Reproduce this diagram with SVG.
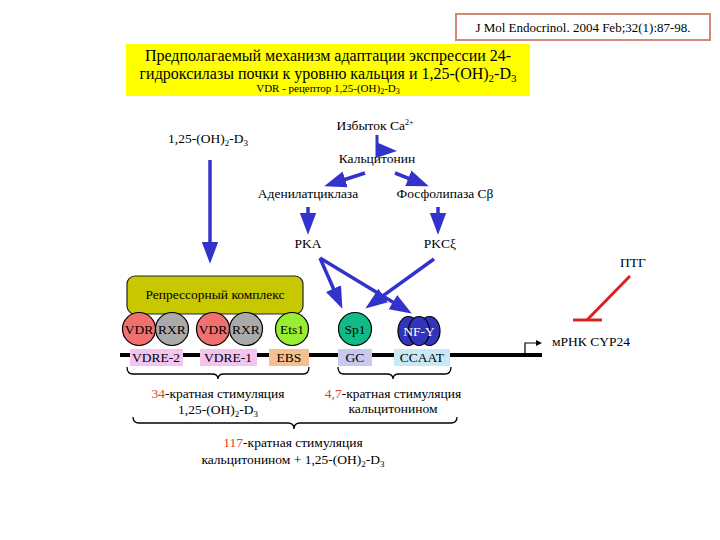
<svg xmlns="http://www.w3.org/2000/svg" width="720" height="540" viewBox="0 0 720 540" font-family="'Liberation Serif','Times New Roman',serif">
<style>
text{font-family:"Liberation Serif","Times New Roman",serif;fill:#000}
.t13{font-size:13.5px}
.mid{text-anchor:middle}
.arr{stroke:#3333cc;stroke-width:3.5;fill:none;marker-end:url(#ah)}
.brace{stroke:#000;stroke-width:1.3;fill:none}
.red{fill:#d8452a}
.circ{stroke:#000;stroke-width:1.2}
</style>
<defs>
<marker id="ah" markerUnits="userSpaceOnUse" markerWidth="22" markerHeight="18" viewBox="0 0 20 15" refX="12" refY="7.5" orient="auto">
<path d="M0,0 L20,7.5 L0,15 z" fill="#3333cc"/>
</marker>
</defs>
<rect width="720" height="540" fill="#fff"/>

<g id="citation">
<rect x="456" y="14" width="254" height="26" fill="#fff" stroke="#d08a78" stroke-width="2"/>
<text x="583" y="32" class="mid" font-size="13">J Mol Endocrinol. 2004 Feb;32(1):87-98.</text>
</g>

<g id="title">
<rect x="126" y="44" width="404" height="52" fill="#ffff00"/>
<text x="328" y="61" class="mid" font-size="16">Предполагаемый механизм адаптации экспрессии 24-</text>
<text x="328" y="79" class="mid" font-size="16">гидроксилазы почки к уровню кальция и 1,25-(OH)<tspan font-size="11" dy="3">2</tspan><tspan dy="-3">-D</tspan><tspan font-size="11" dy="3">3</tspan></text>
<text x="328" y="92" class="mid" font-size="11">VDR - рецептор 1,25-(OH)<tspan font-size="8" dy="2">2</tspan><tspan dy="-2">-D</tspan><tspan font-size="8" dy="2">3</tspan></text>
</g>

<g id="d3">
<text x="208" y="143" class="mid t13">1,25-(OH)<tspan font-size="9" dy="3">2</tspan><tspan dy="-3">-D</tspan><tspan font-size="9" dy="3">3</tspan></text>
</g>
<g id="ca">
<text x="375" y="130" class="mid t13">Избыток Ca<tspan font-size="8" dy="-5">2+</tspan></text>
</g>
<g id="calcitonin"><text x="377" y="163" class="mid t13">Кальцитонин</text></g>
<g id="adenylate"><text x="308" y="198" class="mid t13">Аденилатциклаза</text></g>
<g id="plc"><text x="445" y="198" class="mid t13">Фосфолипаза Cβ</text></g>
<g id="pka"><text x="308" y="248" class="mid t13">PKA</text></g>
<g id="pkc"><text x="440" y="248" class="mid t13">PKCξ</text></g>

<g id="repressor">
<rect x="127" y="276" width="176" height="38" rx="8" fill="#c8c800" stroke="#222" stroke-width="1.2"/>
<text x="215" y="299" class="mid t13">Репрессорный комплекс</text>
</g>

<g id="dna">
<line x1="120" y1="355" x2="542" y2="355" stroke="#000" stroke-width="4"/>
<path d="M525,355 V343 H537" stroke="#000" stroke-width="1.2" fill="none"/>
<path d="M536,340 L542,343 L536,346 z" fill="#000"/>
</g>

<g id="vdre2"><rect x="130" y="349" width="53" height="17" fill="#f4c4f0"/><text x="156" y="362" class="mid t13">VDRE-2</text></g>
<g id="vdre1"><rect x="200" y="349" width="57" height="17" fill="#f4c4f0"/><text x="228" y="362" class="mid t13">VDRE-1</text></g>
<g id="ebs"><rect x="269" y="349" width="40" height="17" fill="#f5c090"/><text x="289" y="362" class="mid t13">EBS</text></g>
<g id="gc"><rect x="338" y="349" width="34" height="17" fill="#c8c8f0"/><text x="355" y="362" class="mid t13">GC</text></g>
<g id="ccaat"><rect x="394" y="349" width="56" height="17" fill="#c8e8f8"/><text x="422" y="362" class="mid t13">CCAAT</text></g>

<g id="vdr2c"><circle cx="139" cy="329" r="16.5" fill="#f07070" class="circ"/><text x="139" y="334" class="mid t13">VDR</text></g>
<g id="rxr2c"><circle cx="172" cy="329" r="16.5" fill="#aaaaaa" class="circ"/><text x="172" y="334" class="mid t13">RXR</text></g>
<g id="vdr1c"><circle cx="213" cy="329" r="16.5" fill="#f07070" class="circ"/><text x="213" y="334" class="mid t13">VDR</text></g>
<g id="rxr1c"><circle cx="246" cy="329" r="16.5" fill="#aaaaaa" class="circ"/><text x="246" y="334" class="mid t13">RXR</text></g>
<g id="ets1"><circle cx="292" cy="329" r="16.5" fill="#99ee33" class="circ"/><text x="292" y="334" class="mid t13">Ets1</text></g>
<g id="sp1"><circle cx="355" cy="329" r="16.5" fill="#11bb88" class="circ"/><text x="355" y="334" class="mid t13">Sp1</text></g>
<g id="nfy">
<ellipse cx="408.5" cy="331" rx="10.5" ry="14.5" fill="#3333bb" class="circ"/>
<ellipse cx="429.5" cy="331" rx="10.5" ry="14.5" fill="#3333bb" class="circ"/>
<ellipse cx="419" cy="331" rx="10.5" ry="14.5" fill="#3333bb" class="circ"/>
<text x="419" y="336" class="mid t13" style="fill:#fff">NF-Y</text>
</g>

<g id="pth">
<text x="633" y="267" class="mid t13">ПТГ</text>
<line x1="630" y1="276" x2="587" y2="320" stroke="#dd2222" stroke-width="3"/>
<line x1="573" y1="320" x2="602" y2="320" stroke="#dd2222" stroke-width="3"/>
</g>
<g id="mrna"><text x="552" y="346" class="t13">мРНК CYP24</text></g>

<g id="connectors">
<line x1="210" y1="160" x2="210" y2="255" class="arr"/>
<line x1="377" y1="135" x2="377" y2="157" stroke="#3333cc" stroke-width="3"/>
<polygon points="376,142 397,151 376,158" fill="#3333cc"/>
<line x1="365" y1="173" x2="332.6" y2="183.5" class="arr"/>
<line x1="395" y1="173" x2="420.6" y2="183.1" class="arr"/>
<line x1="308" y1="207" x2="308" y2="226" class="arr"/>
<line x1="438" y1="207" x2="438" y2="226" class="arr"/>
<line x1="320" y1="258" x2="338.8" y2="300.7" class="arr"/>
<line x1="320" y1="258" x2="404.2" y2="308.9" class="arr"/>
<line x1="434" y1="259" x2="372.5" y2="303.3" class="arr"/>
</g>

<g id="braces">
<path class="brace" d="M127,367 Q127,374 133,374 H212 Q218,374 218,379 Q218,374 224,374 H303 Q309,374 309,367"/>
<path class="brace" d="M338,367 Q338,374 344,374 H387 Q393,374 393,379 Q393,374 399,374 H445 Q451,374 451,367"/>
<path class="brace" d="M133,417 Q133,423 139,423 H288 Q294,423 294,429 Q294,423 300,423 H451 Q457,423 457,417"/>
</g>

<g id="stim34">
<text x="218" y="398" class="mid t13"><tspan class="red">34</tspan>-кратная стимуляция</text>
<text x="218" y="414" class="mid t13">1,25-(OH)<tspan font-size="9" dy="3">2</tspan><tspan dy="-3">-D</tspan><tspan font-size="9" dy="3">3</tspan></text>
</g>
<g id="stim47">
<text x="393" y="398" class="mid t13"><tspan class="red">4,7</tspan>-кратная стимуляция</text>
<text x="393" y="413" class="mid t13">кальцитонином</text>
</g>
<g id="stim117">
<text x="293" y="447" class="mid t13"><tspan class="red">117</tspan>-кратная стимуляция</text>
<text x="293" y="464" class="mid t13">кальцитонином + 1,25-(OH)<tspan font-size="9" dy="3">2</tspan><tspan dy="-3">-D</tspan><tspan font-size="9" dy="3">3</tspan></text>
</g>
</svg>
